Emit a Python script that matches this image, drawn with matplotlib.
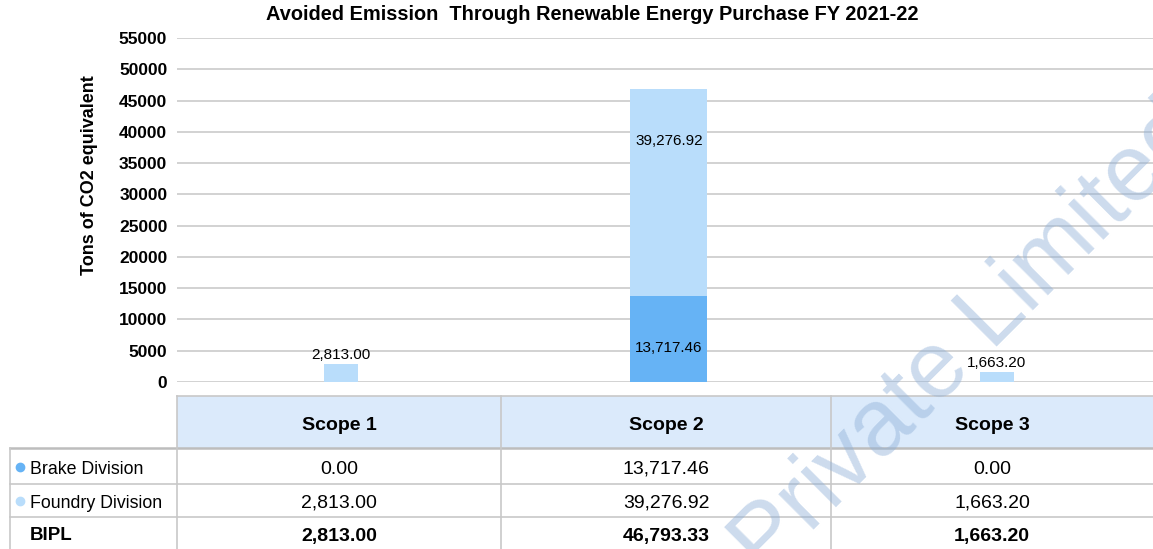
import matplotlib
matplotlib.use("Agg")
import matplotlib.pyplot as plt
from matplotlib.patches import Rectangle

plt.rcParams['font.family'] = ['Liberation Sans', 'DejaVu Sans']

# ---------------- data ----------------
categories = ["Scope 1", "Scope 2", "Scope 3"]
brake = [0.00, 13717.46, 0.00]
foundry = [2813.00, 39276.92, 1663.20]
bipl = [2813.00, 46793.33, 1663.20]
series_names = ["Brake Division", "Foundry Division"]
total_name = "BIPL"
y_ticks = [0, 5000, 10000, 15000, 20000, 25000, 30000, 35000, 40000, 45000, 50000, 55000]
title = "Avoided Emission  Through Renewable Energy Purchase FY 2021-22"
y_label = "Tons of CO2 equivalent"
watermark = "Private Limited"

# ---------------- style ----------------
W, H = 1153, 549
c_brake = "#66b3f5"
c_foundry = "#b9ddfb"
c_grid = "#c6c6c6"
c_head = "#dbeafb"
c_border = "#c8c8c8"
bar_widths = [0.105, 0.235, 0.105]

fig = plt.figure(figsize=(W / 100, H / 100), dpi=100)
ax = fig.add_axes([177 / W, (H - 382) / H, (W - 177) / W, (382 - 38) / H])

x = list(range(len(categories)))
# light bar reaches the BIPL total, brake segment drawn over it
ax.bar(x, bipl, width=bar_widths, color=c_foundry, zorder=2)
ax.bar(x, brake, width=bar_widths, color=c_brake, zorder=2.5)

ax.set_ylim(0, 55000)
ax.set_xlim(-0.5, 2.476)
ax.set_yticks(y_ticks)
ax.set_yticklabels([str(v) for v in y_ticks], fontsize=12.5, fontweight='bold')
ax.tick_params(axis='y', length=0, pad=7)
ax.set_xticks([])
for s in ax.spines.values():
    s.set_visible(False)
ax.grid(axis='y', color=c_grid, linewidth=1.1, zorder=0)
ax.set_axisbelow(True)

def fmt(v):
    return f"{v:,.2f}"

for i in x:
    b, f, t = brake[i], foundry[i], bipl[i]
    if b > 0:
        ax.annotate(fmt(b), (i, b), xytext=(0, -37.5), textcoords='offset points',
                    ha='center', va='center', fontsize=11, zorder=3)
        ax.annotate(fmt(f), (i, t), xytext=(0, -37.5), textcoords='offset points',
                    ha='center', va='center', fontsize=11, zorder=3)
    else:
        ax.annotate(fmt(f), (i, t), xytext=(0, 1.5), textcoords='offset points',
                    ha='center', va='bottom', fontsize=11, zorder=3)

fig.text(592 / W, 1 - 15 / H, title, ha='center', va='center', fontsize=14.4, fontweight='bold')
fig.text(90 / W, (H - 175) / H, y_label, ha='center', va='center', rotation=90,
         fontsize=13, fontweight='bold')

# ---------------- table (overlay in pixel coords) ----------------
ov = fig.add_axes([0, 0, 1, 1], zorder=5)
ov.set_xlim(0, W)
ov.set_ylim(H, 0)
ov.axis('off')
ov.patch.set_alpha(0)

col_edges = [177, 501, 831]
col_centers = [339, 666, 992]

ov.add_patch(Rectangle((177, 396), W - 177, 52, facecolor=c_head, edgecolor='none'))
ov.plot([177, W], [396, 396], color=c_border, lw=1.2)
ov.plot([10, W], [448, 448], color="#bdbdbd", lw=1.8)
for yy in [484, 517]:
    ov.plot([10, W], [yy, yy], color=c_border, lw=1.2)
ov.plot([10, 10], [448, H], color=c_border, lw=1.2)
for xx in col_edges:
    ov.plot([xx, xx], [396, H], color=c_border, lw=1.2)

for j, cat in enumerate(categories):
    ov.text(col_centers[j], 424, cat, ha='center', va='center_baseline', fontsize=14, fontweight='bold')

row_y = [467, 501, 534]
row_series = [brake, foundry, bipl]
row_names = series_names + [total_name]
row_colors = [c_brake, c_foundry, None]
for r in range(3):
    if row_colors[r] is not None:
        ov.scatter([20], [row_y[r]], s=36, color=row_colors[r], zorder=6)
        ov.text(30, row_y[r], row_names[r], ha='left', va='center_baseline', fontsize=12.8)
    else:
        ov.text(30, row_y[r], row_names[r], ha='left', va='center_baseline', fontsize=13.5,
                fontweight='bold')
    for j in range(3):
        ov.text(col_centers[j], row_y[r], fmt(row_series[r][j]), ha='center', va='center_baseline',
                fontsize=14, fontweight='bold' if r == 2 else 'normal')

# watermark
ov.text(765, 578, watermark, rotation=45, rotation_mode='anchor', ha='left', va='baseline',
        fontsize=68, color="#8fb0d8", alpha=0.45, zorder=10)

fig.savefig("out.png", dpi=100)
